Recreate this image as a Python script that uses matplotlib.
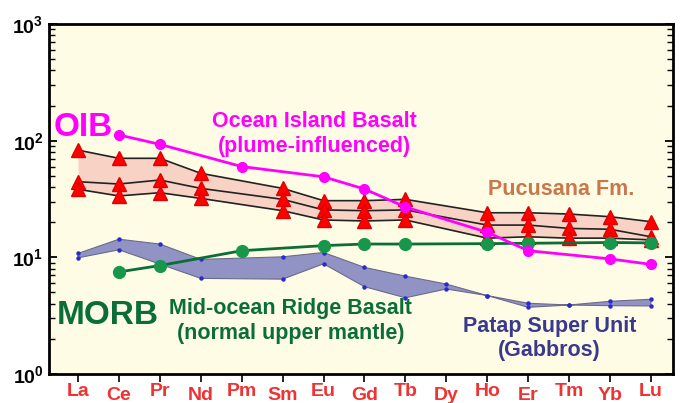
import numpy as np
import matplotlib
matplotlib.use("Agg")
import matplotlib.pyplot as plt

plt.rcParams["font.family"] = ["Liberation Sans", "DejaVu Sans"]
plt.rcParams["mathtext.fontset"] = "custom"
plt.rcParams["mathtext.bf"] = "Liberation Sans:bold"
plt.rcParams["mathtext.rm"] = "Liberation Sans:bold"

nan = np.nan
ELEMENTS = ["La", "Ce", "Pr", "Nd", "Pm", "Sm", "Eu", "Gd", "Tb", "Dy",
            "Ho", "Er", "Tm", "Yb", "Lu"]

# Pucusana Fm. (three samples, band between highest and lowest)
puc_top = [83, 70.6, 70.6, 52.5, nan, 39, 30.6, 30.6, 31.4, nan, 24.1, 24.1, 23.5, 22.3, 20.2]
puc_mid = [44.5, 42.5, 46, 39, nan, 31.4, 25.5, 25.1, 25.5, nan, 18.9, 18.9, 17.7, 17.4, 15.0]
puc_low = [38.3, 33.6, 35.8, 32, nan, 25.1, 20.9, 20.5, 20.9, nan, 14.6, 15.0, 14.6, 14.6, 14.1]

# Ocean Island Basalt
oib = [nan, 112, 93, nan, 60, nan, 49, 38.5, 27, nan, 16.4, 11.4, nan, 9.7, 8.7]

# Mid-ocean Ridge Basalt
morb = [nan, 7.5, 8.5, nan, 11.4, nan, 12.6, 13.0, 13.0, nan, 13.1, 13.2, nan, 13.4, 13.3]

# Patap Super Unit gabbros (upper / lower envelope)
patap_hi = [10.8, 14.3, 13.0, 9.6, nan, 10.1, 11.0, 8.2, 6.9, 5.9, 4.7, 4.04, 3.9, 4.2, 4.37]
patap_lo = [9.9, 11.6, nan, 6.6, nan, 6.5, 8.8, 5.6, 4.5, 5.35, 4.7, 3.73, 3.9, 3.85, 3.83]

x_all = np.arange(len(ELEMENTS))


def valid(vals):
    v = np.array(vals, dtype=float)
    m = ~np.isnan(v)
    return x_all[m], v[m]


fig = plt.figure(figsize=(6.83, 4.03), dpi=100)
ax = fig.add_axes([0.0717, 0.072, 0.9137, 0.8684])
ax.set_facecolor("#FFFCE6")

# Patap band
xh, yh = valid(patap_hi)
xl, yl = valid(patap_lo)
ax.fill(np.concatenate([xh, xl[::-1]]), np.concatenate([yh, yl[::-1]]),
        facecolor="#9093C3", edgecolor="#6a6a8a", lw=0.8, zorder=2)
ax.plot(xh, yh, ls="none", marker="o", ms=2.2, color="#2a2ad0", zorder=3)
ax.plot(xl, yl, ls="none", marker="o", ms=2.2, color="#2a2ad0", zorder=3)

# Pucusana band
xt, yt = valid(puc_top)
xb, yb = valid(puc_low)
ax.fill_between(xt, yt, yb, color="#F9D2C6", lw=0, zorder=2)
for s in (puc_top, puc_mid, puc_low):
    xs, ys = valid(s)
    ax.plot(xs, ys, color="#222222", lw=1.2, zorder=4)
for s in (puc_top, puc_mid, puc_low):
    xs, ys = valid(s)
    ax.plot(xs, ys, ls="none", marker="^", ms=9.5, color="#FF0000",
            markeredgecolor="#e00000", zorder=5)

# MORB
xm, ym = valid(morb)
ax.plot(xm, ym, color="#0B6E38", lw=2, marker="o", ms=8.5,
        markerfacecolor="#17964C", markeredgecolor="#17964C", zorder=6)

# OIB
xo, yo = valid(oib)
ax.plot(xo, yo, color="#FF00FF", lw=2, marker="o", ms=7, zorder=7)

ax.set_yscale("log")
ax.set_ylim(1, 1000)
ax.set_xlim(-0.71, 14.54)

ax.set_xticks(x_all)
ax.set_xticklabels(ELEMENTS, color="#EE3333", fontsize=14, fontweight="bold")
for i, t in enumerate(ax.xaxis.get_major_ticks()):
    t.set_pad(3.5 if i % 2 else 0.5)
ax.tick_params(axis="x", direction="out", length=6, width=1.2, top=False)

ax.set_yticks([1, 10, 100, 1000])
ax.set_yticklabels([r"$\mathbf{10^{%d}}$" % k for k in range(4)], fontsize=14)
ax.tick_params(axis="y", which="major", direction="in", length=6, width=1.3,
               right=True, pad=4)
ax.tick_params(axis="y", which="minor", direction="in", length=4, width=1.0,
               right=True)

for sp in ax.spines.values():
    sp.set_linewidth(2)

bold = dict(fontweight="bold", ha="center", va="center")
ax.text(0.12, 130, "OIB", color="#FF00FF", fontsize=24, **bold)
ax.text(5.77, 114, "Ocean Island Basalt\n(plume-influenced)", color="#FF00FF",
        fontsize=15.5, linespacing=1.2, **bold)
ax.text(11.8, 38.5, "Pucusana Fm.", color="#C8784A", fontsize=15.5, **bold)
ax.text(0.73, 3.2, "MORB", color="#0B6E38", fontsize=24, **bold)
ax.text(5.2, 2.85, "Mid-ocean Ridge Basalt\n(normal upper mantle)",
        color="#0B6E38", fontsize=15.5, linespacing=1.2, **bold)
ax.text(11.52, 2.0, "Patap Super Unit\n(Gabbros)", color="#3A3A8C",
        fontsize=15.5, linespacing=1.2, **bold)

fig.savefig("out.png", dpi=100)
